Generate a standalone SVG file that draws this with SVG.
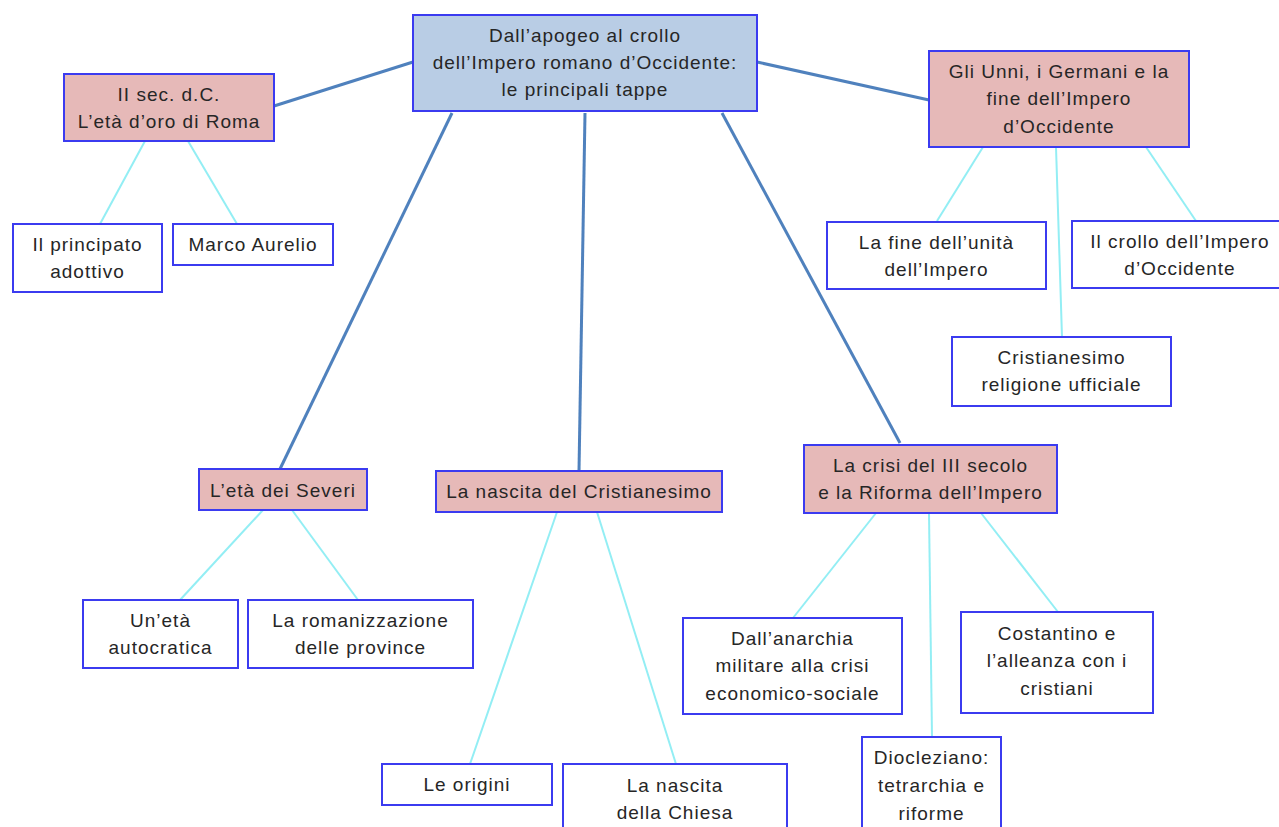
<svg xmlns="http://www.w3.org/2000/svg" width="1279" height="827" viewBox="0 0 1279 827">
<style>
.bx{stroke:#3b3bf0;stroke-width:2}
.root{fill:#b9cde5}
.main{fill:#e6b9b8}
.leaf{fill:#ffffff}
text{font-family:"Liberation Sans",Arial,sans-serif;font-size:19px;letter-spacing:1px;fill:#262626;text-anchor:middle}
.c1{stroke:#4f81bd;stroke-width:3;fill:none}
.c2{stroke:#93eef4;stroke-width:2;fill:none}
</style>
<rect width="1279" height="827" fill="#ffffff"/>
<g id="connectors">
<line class="c1" x1="413" y1="62" x2="274" y2="106"/>
<line class="c1" x1="757" y1="62" x2="929" y2="100"/>
<line class="c1" x1="452" y1="113" x2="280" y2="469"/>
<line class="c1" x1="585" y1="113" x2="579" y2="471"/>
<line class="c1" x1="722" y1="113" x2="900" y2="443"/>
<line class="c2" x1="145" y1="141" x2="100" y2="224"/>
<line class="c2" x1="188" y1="141" x2="237" y2="224"/>
<line class="c2" x1="983" y1="147" x2="937" y2="221"/>
<line class="c2" x1="1056" y1="147" x2="1062" y2="337"/>
<line class="c2" x1="1146" y1="147" x2="1196" y2="221"/>
<line class="c2" x1="263" y1="510" x2="180" y2="600"/>
<line class="c2" x1="292" y1="510" x2="358" y2="600"/>
<line class="c2" x1="557" y1="512" x2="470" y2="764"/>
<line class="c2" x1="597" y1="512" x2="676" y2="764"/>
<line class="c2" x1="876" y1="513" x2="793" y2="618"/>
<line class="c2" x1="929" y1="513" x2="932" y2="737"/>
<line class="c2" x1="981" y1="513" x2="1058" y2="612"/>
</g>
<g id="n-root">
<rect class="bx root" x="413" y="15" width="344" height="96"/>
<text x="585" y="42">Dall’apogeo al crollo</text>
<text x="585" y="69">dell’Impero romano d’Occidente:</text>
<text x="585" y="96">le principali tappe</text>
</g>
<g id="n-iisec">
<rect class="bx main" x="64" y="74" width="210" height="67"/>
<text x="169" y="101">II sec. d.C.</text>
<text x="169" y="128">L’età d’oro di Roma</text>
</g>
<g id="n-principato">
<rect class="bx leaf" x="13" y="224" width="149" height="68"/>
<text x="87.5" y="251">Il principato</text>
<text x="87.5" y="278">adottivo</text>
</g>
<g id="n-marco">
<rect class="bx leaf" x="173" y="224" width="160" height="41"/>
<text x="253" y="251">Marco Aurelio</text>
</g>
<g id="n-unni">
<rect class="bx main" x="929" y="51" width="260" height="96"/>
<text x="1059" y="78">Gli Unni, i Germani e la</text>
<text x="1059" y="105">fine dell’Impero</text>
<text x="1059" y="133">d’Occidente</text>
</g>
<g id="n-fine">
<rect class="bx leaf" x="827" y="222" width="219" height="67"/>
<text x="936.5" y="249">La fine dell’unità</text>
<text x="936.5" y="276">dell’Impero</text>
</g>
<g id="n-crollo">
<rect class="bx leaf" x="1072" y="221" width="216" height="67"/>
<text x="1180" y="248">Il crollo dell’Impero</text>
<text x="1180" y="275">d’Occidente</text>
</g>
<g id="n-cristianesimo">
<rect class="bx leaf" x="952" y="337" width="219" height="69"/>
<text x="1061.5" y="364">Cristianesimo</text>
<text x="1061.5" y="391">religione ufficiale</text>
</g>
<g id="n-severi">
<rect class="bx main" x="199" y="469" width="168" height="41"/>
<text x="283" y="497">L’età dei Severi</text>
</g>
<g id="n-autocratica">
<rect class="bx leaf" x="83" y="600" width="155" height="68"/>
<text x="160.5" y="627">Un’età</text>
<text x="160.5" y="654">autocratica</text>
</g>
<g id="n-romanizzazione">
<rect class="bx leaf" x="248" y="600" width="225" height="68"/>
<text x="360.5" y="627">La romanizzazione</text>
<text x="360.5" y="654">delle province</text>
</g>
<g id="n-nascita">
<rect class="bx main" x="436" y="471" width="286" height="41"/>
<text x="579" y="498">La nascita del Cristianesimo</text>
</g>
<g id="n-origini">
<rect class="bx leaf" x="382" y="764" width="170" height="41"/>
<text x="467" y="791">Le origini</text>
</g>
<g id="n-chiesa">
<rect class="bx leaf" x="563" y="764" width="224" height="75"/>
<text x="675" y="792">La nascita</text>
<text x="675" y="819">della Chiesa</text>
</g>
<g id="n-crisi">
<rect class="bx main" x="804" y="445" width="253" height="68"/>
<text x="930.5" y="472">La crisi del III secolo</text>
<text x="930.5" y="499">e la Riforma dell’Impero</text>
</g>
<g id="n-anarchia">
<rect class="bx leaf" x="683" y="618" width="219" height="96"/>
<text x="792.5" y="645">Dall’anarchia</text>
<text x="792.5" y="672">militare alla crisi</text>
<text x="792.5" y="700">economico-sociale</text>
</g>
<g id="n-costantino">
<rect class="bx leaf" x="961" y="612" width="192" height="101"/>
<text x="1057" y="640">Costantino e</text>
<text x="1057" y="667">l’alleanza con i</text>
<text x="1057" y="695">cristiani</text>
</g>
<g id="n-diocleziano">
<rect class="bx leaf" x="862" y="737" width="139" height="100"/>
<text x="931.5" y="764">Diocleziano:</text>
<text x="931.5" y="792">tetrarchia e</text>
<text x="931.5" y="820">riforme</text>
</g>
</svg>
